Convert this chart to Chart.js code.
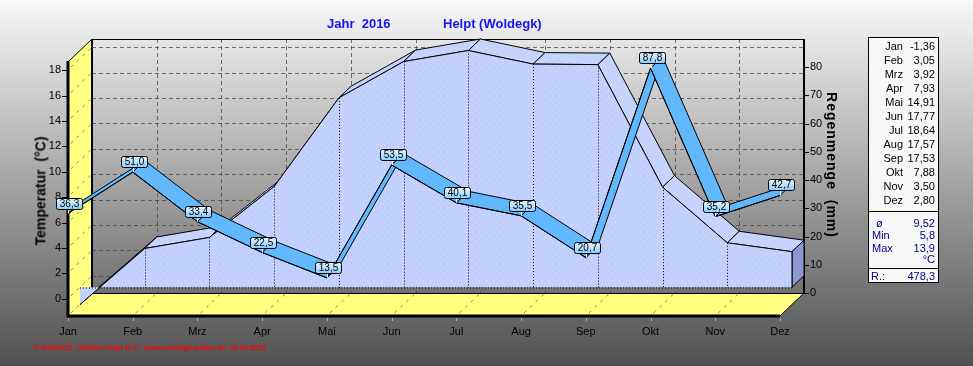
<!DOCTYPE html>
<html>
<head>
<meta charset="utf-8">
<script src="https://cdn.jsdelivr.net/npm/chart.js@4/dist/chart.umd.min.js"></script>
<style>
    html, body { margin: 0; padding: 0; }
    body {
        width: 973px; height: 366px; position: relative; overflow: hidden;
        background: linear-gradient(#f8f8f8, #505050);
        font-family: "Liberation Sans", Arial, sans-serif;
    }
    #chart { position: absolute; left: 0; top: 0; }
    .title { position: absolute; top: 16px; font-size: 13px; line-height: 16px; font-weight: bold; color: #1414f5; white-space: pre; }
    .axisTitle { position: absolute; font-size: 14px; font-weight: bold; color: #000; white-space: pre; transform-origin: center; }
    #table { position: absolute; left: 868px; top: 37px; width: 71px; height: 246px; box-sizing: border-box; border: 1px solid #000; background: #f7f7f7; font-size: 11px; }
    #table span { position: absolute; line-height: 14px; white-space: pre; }
    #table .sep { position: absolute; left: 0; right: 0; height: 1px; background: #000; }
    #footer { position: absolute; left: 33px; top: 343px; font-size: 7px; font-weight: bold; letter-spacing: 0.1px; line-height: 10px; color: #ff0000; white-space: pre; }
</style>
</head>
<body>
<canvas id="chart" width="973" height="366"></canvas>
<div class="title" style="left:327px">Jahr  2016</div>
<div class="title" style="left:443px">Helpt (Woldegk)</div>
<div class="axisTitle" id="tempTitle">Temperatur  (°C)</div>
<div class="axisTitle" id="rainTitle" style="letter-spacing:1px">Regenmenge  (mm)</div>
<div id="table"></div>
<div id="footer">© WsWin32 - Station Helpt M-V - www.woldegk-wetter.de  09.04.2022</div>
<script>
const months = ['Jan', 'Feb', 'Mrz', 'Apr', 'Mai', 'Jun', 'Jul', 'Aug', 'Sep', 'Okt', 'Nov', 'Dez'];
const temperatur = [-1.36, 3.05, 3.92, 7.93, 14.91, 17.77, 18.64, 17.57, 17.53, 7.88, 3.50, 2.80];
const regen = [36.3, 51.0, 33.4, 22.5, 13.5, 53.5, 40.1, 35.5, 20.7, 87.8, 35.2, 42.7];
const tempTicks = [0, 2, 4, 6, 8, 10, 12, 14, 16, 18];
const regenTicks = [0, 10, 20, 30, 40, 50, 60, 70, 80];
const statLabels = ['ø', 'Min', 'Max', ''];
const statValues = ['9,52', '5,8', '13,9', '°C'];
const regenSumme = '478,3';

const FONT = '"Liberation Sans", Arial, sans-serif';
const DX = 24, DY = 23;          // depth of the 3d box
const HX = 12, HY = 11.5;        // half depth

// axis titles
const tt = document.getElementById('tempTitle');
tt.style.left = (40 - tt.offsetWidth / 2) + 'px';
tt.style.top = (191 - tt.offsetHeight / 2) + 'px';
tt.style.transform = 'rotate(-90deg)';
const rt = document.getElementById('rainTitle');
rt.style.left = (832 - rt.offsetWidth / 2) + 'px';
rt.style.top = (165 - rt.offsetHeight / 2) + 'px';
rt.style.transform = 'rotate(90deg)';

// table on the right
const table = document.getElementById('table');
function addText(text, x, cy, align, color) {
    const s = document.createElement('span');
    s.textContent = text;
    s.style.top = (cy - 7) + 'px';
    if (align === 'right') s.style.right = (69 - x) + 'px';
    else s.style.left = x + 'px';
    if (color) s.style.color = color;
    table.appendChild(s);
}
months.forEach((m, i) => {
    addText(m, 34, 8 + 14 * i, 'right');
    addText(temperatur[i].toFixed(2).replace('.', ','), 66, 8 + 14 * i, 'right');
});
[173, 230].forEach(y => {
    const d = document.createElement('div');
    d.className = 'sep';
    d.style.top = y + 'px';
    table.appendChild(d);
});
const statY = [185, 197, 210, 221];
statLabels.forEach((l, i) => {
    addText(l, i === 0 ? 7 : 3, statY[i], 'left', '#000080');
    addText(statValues[i], 66, statY[i], 'right', '#000080');
});
addText('R.:', 2, 238, 'left', '#000080');
addText(regenSumme, 66, 238, 'right', '#000080');

// dotted fill pattern for the temperature area
function makePattern() {
    const c = document.createElement('canvas');
    c.width = 7; c.height = 7;
    const g = c.getContext('2d');
    g.fillStyle = '#c0cffc';
    g.fillRect(0, 0, 7, 7);
    g.fillStyle = '#dfe7ff';
    g.fillRect(1, 2, 1, 1);
    g.fillRect(5, 5, 1, 1);
    return g.createPattern(c, 'repeat');
}
const areaPattern = makePattern();

function line(ctx, x1, y1, x2, y2) {
    ctx.beginPath();
    ctx.moveTo(x1, y1);
    ctx.lineTo(x2, y2);
    ctx.stroke();
}
function poly(ctx, pts, fill, stroke) {
    ctx.beginPath();
    ctx.moveTo(pts[0][0], pts[0][1]);
    for (let i = 1; i < pts.length; i++) ctx.lineTo(pts[i][0], pts[i][1]);
    ctx.closePath();
    if (fill) { ctx.fillStyle = fill; ctx.fill(); }
    if (stroke) { ctx.strokeStyle = stroke; ctx.lineWidth = 1; ctx.stroke(); }
}

const box3d = {
    id: 'box3d',
    beforeDraw(chart) {
        const { ctx, chartArea: a, scales } = chart;
        const L = a.left, R = a.right, T = a.top, B = a.bottom;
        ctx.save();
        // walls
        poly(ctx, [[L, T], [L + DX, T - DY], [L + DX, B - DY], [L, B]], '#ffff80');
        poly(ctx, [[L, B], [L + DX, B - DY], [R + DX, B - DY], [R, B]], '#ffff80');

        // back wall grid
        ctx.strokeStyle = 'rgba(70,70,70,0.75)';
        ctx.lineWidth = 1;
        ctx.setLineDash([4, 3]);
        tempTicks.forEach(v => {
            const y = Math.round(scales.y.getPixelForValue(v) - DY) + 0.5;
            line(ctx, L + DX, y, R + DX, y);
        });
        months.forEach((m, i) => {
            if (i === 0 || i === months.length - 1) return;
            const x = Math.round(scales.x.getPixelForValue(i) + DX) + 0.5;
            line(ctx, x, T - DY, x, B - DY);
        });
        // dashes on the yellow walls
        ctx.strokeStyle = '#8a8a60';
        ctx.setLineDash([3, 5]);
        tempTicks.forEach(v => {
            const y = scales.y.getPixelForValue(v);
            line(ctx, L + 3, y - 3, L + DX, y - DY);
        });
        months.forEach((m, i) => {
            const x = scales.x.getPixelForValue(i);
            line(ctx, x + 3, B - 3, x + DX, B - DY);
        });
        ctx.setLineDash([]);

        // edges
        ctx.strokeStyle = '#000';
        ctx.lineWidth = 1;
        line(ctx, L + DX, T - DY + 0.5, R + DX, T - DY + 0.5);
        line(ctx, L, T, L + DX, T - DY);
        line(ctx, R, B, R + DX, B - DY);
        line(ctx, L + DX, B - DY + 0.5, R + DX, B - DY + 0.5);
        ctx.lineWidth = 2;
        line(ctx, L + DX, T - DY, L + DX, B - DY);
        line(ctx, R + DX, T - DY, R + DX, B - DY + 1);
        ctx.lineWidth = 3;
        line(ctx, L, T - 1, L, B + 1.5);
        line(ctx, L, B, R, B);

        // tick marks
        ctx.lineWidth = 1;
        tempTicks.forEach(v => {
            const y = Math.round(scales.y.getPixelForValue(v)) + 0.5;
            line(ctx, L - 6, y, L, y);
        });
        regenTicks.forEach(v => {
            const y = Math.round(scales.y1.getPixelForValue(v) - DY) + 0.5;
            line(ctx, R + DX, y, R + DX + 5, y);
        });
        ctx.strokeStyle = '#b0b0b0';
        months.forEach((m, i) => {
            const x = Math.round(scales.x.getPixelForValue(i)) + 0.5;
            line(ctx, x, B + 2, x, B + 5);
        });
        ctx.restore();
    },
    beforeDatasetsDraw(chart) {
        // temperature: top strip and right end face, then shift for the front face
        const { ctx, scales } = chart;
        const pts = chart.getDatasetMeta(1).data;
        const y0 = scales.y.getPixelForValue(0);
        ctx.save();
        for (let i = 0; i < pts.length - 1; i++) {
            const p = pts[i], q = pts[i + 1];
            poly(ctx, [[p.x + HX, p.y - HY], [q.x + HX, q.y - HY], [q.x + DX, q.y - DY], [p.x + DX, p.y - DY]], '#c6d3fd', '#000');
        }
        const d = pts[pts.length - 1];
        poly(ctx, [[d.x + HX, d.y - HY], [d.x + DX, d.y - DY], [d.x + DX, y0 - DY], [d.x + HX, y0 - HY]], '#8a99cf', '#000');
        ctx.restore();
        ctx.save();
        ctx.translate(HX, -HY);
    },
    afterDatasetDraw(chart, args) {
        if (args.index !== 1) return;
        const { ctx, scales } = chart;
        const pts = args.meta.data;
        const y0 = Math.round(scales.y.getPixelForValue(0)) + 0.5;
        ctx.strokeStyle = '#000';
        ctx.lineWidth = 1;
        ctx.setLineDash([1, 2]);
        pts.forEach((p, i) => {
            if (i === 0 || i === pts.length - 1) return;
            const x = Math.round(p.x) + 0.5;
            line(ctx, x, p.y, x, y0);
        });
        line(ctx, pts[0].x, y0, pts[pts.length - 1].x, y0);
        ctx.setLineDash([]);
        const d = pts[pts.length - 1];
        line(ctx, d.x, d.y, d.x, y0);
        ctx.restore();
    },
    beforeDatasetDraw(chart, args) {
        if (args.index !== 0) return;
        // precipitation ribbon
        const { ctx } = chart;
        const pts = args.meta.data;
        ctx.save();
        for (let i = 0; i < pts.length - 1; i++) {
            const p = pts[i], q = pts[i + 1];
            poly(ctx, [[p.x, p.y], [q.x, q.y], [q.x + HX, q.y - HY], [p.x + HX, p.y - HY]], '#62b8fc', '#000');
        }
        ctx.restore();
    },
    afterDatasetsDraw(chart) {
        const { ctx } = chart;
        const pts = chart.getDatasetMeta(0).data;
        ctx.save();
        ctx.font = '10px ' + FONT;
        ctx.textAlign = 'center';
        ctx.textBaseline = 'middle';
        pts.forEach((p, i) => {
            const text = regen[i].toFixed(1).replace('.', ',');
            const w = Math.round(ctx.measureText(text).width) + 7;
            const h = 11;
            const x0 = Math.round(p.x + 1 - w / 2) + 0.5;
            const y1 = Math.round(p.y - 5) + 0.5;
            ctx.strokeStyle = '#fff';
            line(ctx, Math.round(p.x) + 0.5, y1, Math.round(p.x) + 0.5, p.y);
            const g = ctx.createLinearGradient(0, y1 - h, 0, y1);
            g.addColorStop(0, '#eaf6ff');
            g.addColorStop(1, '#86ccff');
            ctx.beginPath();
            ctx.roundRect(x0, y1 - h, w, h, 2);
            ctx.fillStyle = g;
            ctx.fill();
            ctx.strokeStyle = '#000';
            ctx.lineWidth = 1;
            ctx.stroke();
            ctx.fillStyle = '#000';
            ctx.fillText(text, x0 + w / 2, y1 - h / 2 + 0.5);
        });
        ctx.restore();
    }
};

new Chart(document.getElementById('chart'), {
    type: 'line',
    data: {
        labels: months,
        datasets: [{
            label: 'Regenmenge',
            data: regen,
            yAxisID: 'y1',
            borderColor: '#000',
            borderWidth: 1,
            pointRadius: 0,
            fill: false,
            tension: 0,
            clip: false
        }, {
            label: 'Temperatur',
            data: temperatur,
            yAxisID: 'y',
            borderColor: '#000',
            borderWidth: 1,
            backgroundColor: areaPattern,
            pointRadius: 0,
            fill: 'origin',
            tension: 0,
            clip: false
        }]
    },
    options: {
        responsive: false,
        devicePixelRatio: 1,
        animation: false,
        layout: { padding: { top: 62, left: 0, right: 0, bottom: 0 } },
        plugins: { legend: { display: false }, tooltip: { enabled: false } },
        scales: {
            x: {
                offset: false,
                grid: { display: false, drawTicks: false },
                border: { display: false },
                ticks: { color: '#000', font: { size: 11, family: FONT }, padding: 9, maxRotation: 0, autoSkip: false },
                afterFit: s => { s.height = 50; }
            },
            y: {
                position: 'left',
                min: -1.36,
                max: 18.64,
                grid: { display: false, drawTicks: false },
                border: { display: false },
                ticks: { color: '#000', font: { size: 11, family: FONT }, padding: 7 },
                afterBuildTicks: s => { s.ticks = tempTicks.map(v => ({ value: v })); },
                afterFit: s => { s.width = 68; }
            },
            y1: {
                position: 'right',
                min: 0,
                max: 90,
                grid: { display: false, drawTicks: false },
                border: { display: false },
                ticks: { color: '#000', font: { size: 11, family: FONT }, padding: 30, labelOffset: -23 },
                afterBuildTicks: s => { s.ticks = regenTicks.map(v => ({ value: v })); },
                afterFit: s => { s.width = 193; }
            }
        }
    },
    plugins: [box3d]
});
</script>
</body>
</html>
